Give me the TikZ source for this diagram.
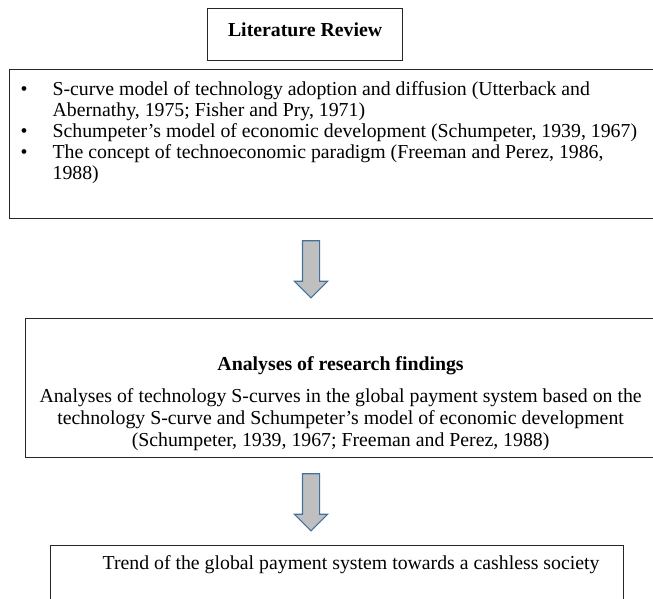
\documentclass[tikz,border=0pt]{standalone}
\usepackage{fontspec}
\setmainfont{Liberation Serif}
\usepackage{xcolor}
\usepackage{enumitem}
\usepackage{tikz}
\usetikzlibrary{shapes.arrows}

\definecolor{arrowfill}{HTML}{BFBFBF}
\definecolor{arrowline}{HTML}{41719C}

\tikzset{
    box/.style={draw=black!85, line width=0.9pt, inner sep=0pt, anchor=north west,
        font=\fontsize{14.85}{15.75}\selectfont},
    downarrow/.style={single arrow, draw=arrowline, fill=arrowfill, line width=0.8pt,
        rotate=-90, minimum height=42.75pt, inner xsep=0pt, inner ysep=6pt,
        single arrow head extend=6pt, single arrow tip angle=90}
}

\begin{document}
\begin{tikzpicture}[x=0.75pt, y=-0.75pt]
        \clip (0,0) rectangle (653,599);
        \node[box, minimum width=146.25pt, minimum height=39pt] (review) at (207,8) {\raisebox{8pt}{\textbf{Literature Review}}};
        \node[box] (theory) at (9,69) {
            \begin{minipage}[c][111.75pt][t]{484.5pt}
                \vspace*{8.8pt}
                \begin{itemize}[leftmargin=32.25pt, labelsep=18.75pt, itemsep=0pt, topsep=0pt, parsep=0pt, partopsep=0pt]
                    \item S-curve model of technology adoption and diffusion (Utterback and\newline Abernathy, 1975; Fisher and Pry, 1971)
                    \item Schumpeter's model of economic development (Schumpeter, 1939, 1967)
                    \item The concept of technoeconomic paradigm (Freeman and Perez, 1986,\newline 1988)
                \end{itemize}
            \end{minipage}
        };
        \node[downarrow] (step1) at (311,265) {};
        \node[box] (findings) at (25,318) {
            \begin{minipage}[c][104.25pt][t]{472.5pt}
                \fontsize{14.85}{16.5}\selectfont
                \centering
                \vspace*{28.5pt}
                \textbf{Analyses of research findings}\par
                \vspace{7.7pt}
                Analyses of technology S-curves in the global payment system based on the\\
                technology S-curve and Schumpeter's model of economic development\\
                (Schumpeter, 1939, 1967; Freeman and Perez, 1988)
            \end{minipage}
        };
        \node[downarrow] (step2) at (311,498) {};
        \node[box] (trend) at (50,545) {
            \begin{minipage}[c][52.5pt][t]{429.75pt}
                \vspace*{7.7pt}
                \hspace*{39pt}Trend of the global payment system towards a cashless society
            \end{minipage}
        };
\end{tikzpicture}
\end{document}
